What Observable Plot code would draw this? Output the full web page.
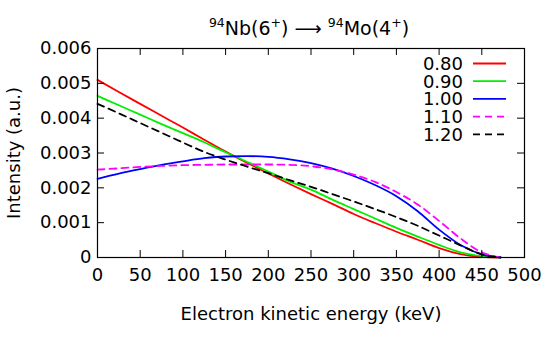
<!DOCTYPE html>
<html>
<head>
<meta charset="utf-8">
<script src="https://cdn.jsdelivr.net/npm/d3@7"></script>
<script src="https://cdn.jsdelivr.net/npm/@observablehq/plot@0.6"></script>
<style>
  html, body { margin: 0; padding: 0; background: #fff; }
  #chart svg { display: block; }
</style>
</head>
<body>
<div id="chart"></div>
<script>
// Electron kinetic energy (keV)
const energy = [0, 25, 50, 75, 100, 125, 150, 175, 200, 225, 250, 275, 300, 325, 350, 375, 400, 425, 450, 472];
// Intensity (a.u.) per series
const s080 = [0.00510, 0.00475, 0.00441, 0.00407, 0.00373, 0.00338, 0.00304, 0.00272, 0.00241, 0.00211, 0.00182, 0.00154, 0.00125, 0.00099, 0.00074, 0.00051, 0.00027, 0.00010, 0.00002, 0];
const s090 = [0.00464, 0.00437, 0.00410, 0.00383, 0.00357, 0.00331, 0.00302, 0.00275, 0.00247, 0.00218, 0.00195, 0.00166, 0.00139, 0.00112, 0.00085, 0.00060, 0.00036, 0.00015, 0.00004, 0];
const s100 = [0.00226, 0.00241, 0.00254, 0.00266, 0.00276, 0.00285, 0.00290, 0.00291, 0.00289, 0.00282, 0.00271, 0.00255, 0.00234, 0.00208, 0.00176, 0.00133, 0.00080, 0.00036, 0.00009, 0];
const s110 = [0.00252, 0.00256, 0.00260, 0.00263, 0.00265, 0.00266, 0.00267, 0.00267, 0.00267, 0.00266, 0.00262, 0.00253, 0.00238, 0.00217, 0.00188, 0.00152, 0.00105, 0.00055, 0.00015, 0];
const s120 = [0.00441, 0.00414, 0.00386, 0.00358, 0.00330, 0.00303, 0.00281, 0.00261, 0.00242, 0.00222, 0.00203, 0.00182, 0.00161, 0.00139, 0.00116, 0.00091, 0.00063, 0.00035, 0.00009, 0];

const seriesNames = ["0.80", "0.90", "1.00", "1.10", "1.20"];
const seriesValues = [s080, s090, s100, s110, s120];
const seriesColors = ["#ff0000", "#00ee00", "#0000ff", "#ff00ff", "#000000"];
const seriesDash = [null, null, null, "7,5", "7,5"];

const xTicks = [0, 50, 100, 150, 200, 250, 300, 350, 400, 450, 500];
const yTicks = [0, 0.001, 0.002, 0.003, 0.004, 0.005, 0.006];

const rows = [];
seriesNames.forEach((name, i) => {
  seriesValues[i].forEach((v, j) => rows.push({series: name, e: energy[j], v}));
});

const W = 544, H = 337;
const mL = 97, mR = 20, mT = 48, mB = 80;
const innerW = W - mL - mR, innerH = H - mT - mB;
const tickLen = 7;
const FONT = "'DejaVu Sans', sans-serif";
const FS = 18;

const lineMarks = seriesNames.map((name, i) =>
  Plot.line(rows.filter(d => d.series === name), {
    x: "e", y: "v", stroke: seriesColors[i], strokeWidth: 1.8,
    strokeDasharray: seriesDash[i], curve: "monotone-x"
  })
);

const chart = Plot.plot({
  width: W, height: H,
  marginLeft: mL, marginRight: mR, marginTop: mT, marginBottom: mB,
  style: {fontFamily: FONT, fontSize: FS + "px", color: "#000", background: "#fff"},
  x: {domain: [0, 500]},
  y: {domain: [0, 0.006]},
  marks: [
    ...lineMarks,
    // inward ticks on all four sides (mirrored)
    Plot.tickX(xTicks, {x: d => d, insetTop: innerH - tickLen, stroke: "#000", strokeWidth: 1}),
    Plot.tickX(xTicks, {x: d => d, insetBottom: innerH - tickLen, stroke: "#000", strokeWidth: 1}),
    Plot.tickY(yTicks, {y: d => d, insetRight: innerW - tickLen, stroke: "#000", strokeWidth: 1}),
    Plot.tickY(yTicks, {y: d => d, insetLeft: innerW - tickLen, stroke: "#000", strokeWidth: 1}),
    Plot.frame({stroke: "#000", strokeWidth: 1.2}),
    Plot.axisX({ticks: xTicks, tickSize: 0, tickPadding: 11, tickFormat: d => String(d), fontSize: FS,
      label: "Electron kinetic energy (keV)", labelAnchor: "center", labelArrow: "none", labelOffset: 62}),
    Plot.axisY({ticks: yTicks, tickSize: 0, tickPadding: 6, tickFormat: d => d === 0 ? "0" : d.toFixed(3), fontSize: FS,
      label: "Intensity (a.u.)", labelAnchor: "center", labelArrow: "none", labelOffset: 90})
  ]
});

document.getElementById("chart").appendChild(chart);

const svg = d3.select(chart);

// Title with superscripts
const TFS = 19, SFS = 12.5, SUP = 8;
const title = svg.append("text")
  .attr("x", 309).attr("y", 35)
  .attr("text-anchor", "middle")
  .attr("font-family", FONT)
  .attr("font-size", TFS)
  .attr("fill", "#000");
const parts = [["94", true], ["Nb(6", false], ["+", true], [") \u27F6 ", false], ["94", true], ["Mo(4", false], ["+", true], [")", false]];
parts.forEach(([t, sup], i) => {
  const prevSup = i > 0 && parts[i - 1][1];
  let dy = 0;
  if (sup && !prevSup) dy = -SUP;
  else if (!sup && prevSup) dy = SUP;
  const ts = title.append("tspan").text(t).attr("dy", dy);
  if (sup) ts.attr("font-size", SFS);
});

// Legend (top-right inside the frame)
const legend = svg.append("g").attr("font-family", FONT).attr("font-size", FS);
seriesNames.forEach((name, i) => {
  const cy = 63.5 + i * 17.7;
  legend.append("text").attr("x", 463).attr("y", cy).attr("dy", "0.36em")
    .attr("text-anchor", "end").attr("fill", "#000").text(name);
  legend.append("line").attr("x1", 473).attr("x2", 506).attr("y1", cy).attr("y2", cy)
    .attr("stroke", seriesColors[i]).attr("stroke-width", 1.8)
    .attr("stroke-dasharray", seriesDash[i] || null);
});
</script>
</body>
</html>
